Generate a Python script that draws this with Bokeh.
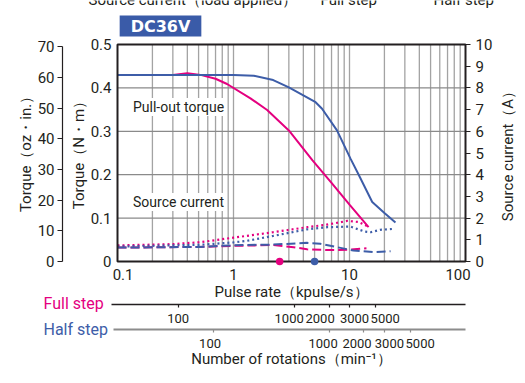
import math
from bokeh.plotting import figure
from bokeh.models import Range1d, LinearAxis, LogAxis, LogScale, FixedTicker, Label
from bokeh.embed import file_html
from bokeh.resources import INLINE

# ---------------- data ----------------
# pull-out torque (N·m) vs pulse rate (kpulse/s)
full_rate   = [0.1, 0.3, 0.4, 0.52, 0.7, 0.88, 1.4, 1.95, 3.0, 4.8, 7.0, 10.0, 14.6]
full_torque = [0.43, 0.43, 0.434, 0.43, 0.421, 0.409, 0.376, 0.349, 0.302, 0.233, 0.181, 0.131, 0.079]
half_rate   = [0.1, 0.5, 1.0, 1.5, 2.2, 3.0, 4.0, 5.1, 5.8, 7.8, 10.2, 12.0, 15.7, 20.0, 24.9]
half_torque = [0.43, 0.43, 0.43, 0.428, 0.418, 0.401, 0.383, 0.367, 0.352, 0.302, 0.237, 0.2, 0.137, 0.112, 0.09]

# source current (A)
full_cur_load_rate = [0.1, 0.3, 0.52, 1.0, 1.3, 2.2, 4.3, 6.4, 9.6, 12.0, 14.6]
full_cur_load      = [0.74, 0.8, 0.89, 1.1, 1.18, 1.35, 1.58, 1.7, 1.87, 1.82, 1.6]
half_cur_load_rate = [0.1, 0.52, 1.0, 1.3, 2.2, 4.3, 6.4, 10.2, 13.5, 15.2, 18.4, 23.4]
half_cur_load      = [0.69, 0.77, 0.88, 0.95, 1.18, 1.48, 1.58, 1.61, 1.38, 1.35, 1.46, 1.5]
full_cur_dash_rate = [0.1, 0.5, 1.0, 2.2, 3.3, 4.3, 6.4, 9.6, 14.0]
full_cur_dash      = [0.64, 0.67, 0.72, 0.76, 0.66, 0.56, 0.53, 0.54, 0.61]
half_cur_dash_rate = [0.1, 0.5, 1.0, 2.2, 4.3, 5.6, 7.8, 10.8, 16.0, 22.6]
half_cur_dash      = [0.64, 0.67, 0.75, 0.78, 0.86, 0.82, 0.66, 0.51, 0.43, 0.47]

marker_rate = [2.5, 5.0]

NB = "\u00a0"
x_ticks = [0.1, 1, 10, 100]
x_labels = [NB * 3 + "0.1", "1", "10", "100" + NB * 4]
y_ticks = [0, 0.1, 0.2, 0.3, 0.4, 0.5]
y_labels = ["0", "0.1", "0.2", "0.3", "0.4", "0.5"]
oz_ticks = [0, 10, 20, 30, 40, 50, 60, 70]
amp_ticks = [0, 1, 2, 3, 4, 5, 6, 7, 8, 9, 10]
rpm_ticks = [100, 1000, 2000, 3000, 5000]

NM_PER_OZIN = 0.0070616
AMP_MAX = 10
STEPS_FULL = 200
STEPS_HALF = 400

# ---------------- layout (pixels) ----------------
W, H = 525, 383
FL, FR, FT, FB = 117, 465, 44, 261          # data-area box inside the canvas
X0, X1 = x_ticks[0], x_ticks[-1]
Y0, Y1 = y_ticks[0], y_ticks[-1]
DEC = (FR - FL) / math.log10(X1 / X0)       # pixels per decade
YPX = (FB - FT) / (Y1 - Y0)                 # pixels per N·m

def px_x(px):
    return X0 * 10 ** ((px - FL) / DEC)

def px_y(py):
    return Y0 + (FB - py) / YPX

XMIN, XMAX = px_x(0), px_x(W)
YMIN, YMAX = px_y(H), px_y(0)
RPM_FULL = 60000 / STEPS_FULL
RPM_HALF = 60000 / STEPS_HALF
AMP_PER_NM = AMP_MAX / (Y1 - Y0)

# ---------------- style ----------------
FONT = "Roboto"
TXT = "#231f20"
PINK = "#e4007f"
BLUE = "#3d5da8"
GRID_V = "#a3a3a3"
GRID_H = "#8a8a8a"

p = figure(width=W, height=H, x_axis_type="log",
           x_axis_location=None, y_axis_location=None,
           x_range=Range1d(XMIN, XMAX), y_range=Range1d(YMIN, YMAX),
           output_backend="svg", toolbar_location=None,
           min_border=0, min_border_left=0, min_border_right=0,
           min_border_top=0, min_border_bottom=0,
           outline_line_color=None,
           background_fill_color="white", border_fill_color="white")
p.xgrid.visible = False
p.ygrid.visible = False

p.extra_y_ranges = {"oz": Range1d(YMIN / NM_PER_OZIN, YMAX / NM_PER_OZIN),
                    "amp": Range1d(YMIN * AMP_PER_NM, YMAX * AMP_PER_NM)}
p.extra_x_ranges = {"full": Range1d(XMIN * RPM_FULL, XMAX * RPM_FULL),
                    "half": Range1d(XMIN * RPM_HALF, XMAX * RPM_HALF)}
p.extra_x_scales = {"full": LogScale(), "half": LogScale()}

# ---------------- grid & frame ----------------
grid_x = [m * 10.0 ** e for e in (-1, 0, 1) for m in range(1, 10) if m * 10.0 ** e > X0]
grid_y = y_ticks[1:-1]
p.segment(x0=grid_x, x1=grid_x, y0=[Y0] * len(grid_x), y1=[Y1] * len(grid_x),
          line_color=GRID_V, line_width=1.3)
p.segment(x0=[X0] * len(grid_y), x1=[X1] * len(grid_y), y0=grid_y, y1=grid_y,
          line_color=GRID_H, line_width=1.3)

# ---------------- curves ----------------
p.line(full_cur_load_rate, full_cur_load, y_range_name="amp", color=PINK, line_width=2.2, line_dash="2 3")
p.line(half_cur_load_rate, half_cur_load, y_range_name="amp", color=BLUE, line_width=2.2, line_dash="2 3")
p.line(full_cur_dash_rate, full_cur_dash, y_range_name="amp", color=PINK, line_width=2, line_dash="9 4")
p.line(half_cur_dash_rate, half_cur_dash, y_range_name="amp", color=BLUE, line_width=2, line_dash="9 4")
p.line(full_rate, full_torque, color=PINK, line_width=2)
p.line(half_rate, half_torque, color=BLUE, line_width=2)

p.quad(left=[X0], right=[X1], bottom=[Y0], top=[Y1], fill_color=None, line_color=TXT, line_width=2)
p.scatter(marker_rate, [Y0, Y0], size=7.5, color=[PINK, BLUE], line_color=None)

# ---------------- axes ----------------
def style_axis(ax, size="15px", tick_out=0, standoff=5, line=None, lw=1.2):
    ax.major_tick_out = tick_out
    ax.major_tick_in = 0
    ax.minor_tick_out = 0
    ax.minor_tick_in = 0
    ax.axis_line_color = line
    ax.axis_line_width = lw
    ax.major_tick_line_color = line if line else TXT
    ax.major_tick_line_width = 1.2
    ax.major_label_standoff = standoff
    ax.major_label_text_font = FONT
    ax.major_label_text_font_size = size
    ax.major_label_text_color = TXT

xa = LogAxis(fixed_location=Y0, ticker=FixedTicker(ticks=x_ticks, minor_ticks=[]),
             major_label_overrides=dict(zip(x_ticks, x_labels)))
style_axis(xa, standoff=4)
p.add_layout(xa, "below")

ya = LinearAxis(fixed_location=X0, ticker=FixedTicker(ticks=y_ticks),
                major_label_overrides=dict(zip(y_ticks, y_labels)))
style_axis(ya, standoff=6)
p.add_layout(ya, "left")

oz = LinearAxis(y_range_name="oz", fixed_location=px_x(62), bounds=(oz_ticks[0], oz_ticks[-1]),
                ticker=FixedTicker(ticks=oz_ticks))
style_axis(oz, tick_out=5, standoff=3, line=TXT)
p.add_layout(oz, "left")

ra = LinearAxis(y_range_name="amp", fixed_location=X1, ticker=FixedTicker(ticks=amp_ticks))
style_axis(ra, tick_out=5, standoff=5)
ra.axis_line_color = None
p.add_layout(ra, "right")

fa = LogAxis(x_range_name="full", fixed_location=px_y(304),
             bounds=(px_x(111) * RPM_FULL, X1 * RPM_FULL),
             ticker=FixedTicker(ticks=rpm_ticks, minor_ticks=[]))
style_axis(fa, tick_out=3, line=TXT, lw=1.5)
fa.major_label_text_color = None
p.add_layout(fa, "below")

ha = LogAxis(x_range_name="half", fixed_location=px_y(329),
             bounds=(px_x(113) * RPM_HALF, X1 * RPM_HALF),
             ticker=FixedTicker(ticks=rpm_ticks, minor_ticks=[]))
style_axis(ha, tick_out=3, line="#8c8c8c", lw=2)
ha.major_tick_line_color = "#8c8c8c"
ha.major_label_text_color = None
p.add_layout(ha, "below")

# rpm tick labels (nudged sideways as in the original)
full_nudge = [0, -5, -9, 5, 10]
half_nudge = [-3, -6, -7, 5, 10]
for v, dx in zip(rpm_ticks, full_nudge):
    p.add_layout(Label(x=v, y=H - 318, x_range_name="full", y_units="screen", x_offset=dx,
                       text=str(v), text_align="center", text_baseline="middle",
                       text_font=FONT, text_font_size="13px", text_color=TXT))
for v, dx in zip(rpm_ticks, half_nudge):
    p.add_layout(Label(x=v, y=H - 343, x_range_name="half", y_units="screen", x_offset=dx,
                       text=str(v), text_align="center", text_baseline="middle",
                       text_font=FONT, text_font_size="13px", text_color=TXT))

# ---------------- texts ----------------
def slabel(text, px, py, size="15px", color=TXT, align="center", baseline="middle",
           angle=0.0, font=FONT, style="normal", **kw):
    p.add_layout(Label(x=px, y=H - py, x_units="screen", y_units="screen", text=text,
                       text_align=align, text_baseline=baseline, angle=angle,
                       text_font=font, text_font_size=size, text_color=color,
                       text_font_style=style, **kw))

slabel("Torque（N・m）", 78, 151, angle=math.pi / 2)
slabel("Torque（oz・in.）", 25, 150, angle=math.pi / 2)
slabel("Source current（A）", 507, 152, angle=math.pi / 2)
slabel("Pulse rate（kpulse/s）", 291, 291)
slabel("Number of rotations（min⁻¹）", 291, 358)
slabel("Full step", 43, 303, size="16px", color=PINK, align="left")
slabel("Half step", 43, 329, size="16px", color=BLUE, align="left")

# legend line at the very top (cut by the picture edge in the original)
slabel("Source current（load applied）", 88, -1, align="left", baseline="alphabetic")
slabel("Full step", 320, -1, align="left", baseline="alphabetic")
slabel("Half step", 433, -1, align="left", baseline="alphabetic")

# voltage badge
slabel("DC36V", 160, 25.5, size="16px", color="white", font="DejaVu Sans", style="bold",
       background_fill_color="#3a5ba8", padding=(11, 1))

# in-plot captions
for txt, xv, yv in [("Pull-out torque", 0.336, 0.356), ("Source current", 0.336, 0.137)]:
    p.add_layout(Label(x=xv, y=yv, text=txt, text_align="center", text_baseline="middle",
                       text_font=FONT, text_font_size="14px", text_color=TXT,
                       background_fill_color="white", padding=(2, 1)))

open("out.html", "w").write(file_html(p, INLINE))
